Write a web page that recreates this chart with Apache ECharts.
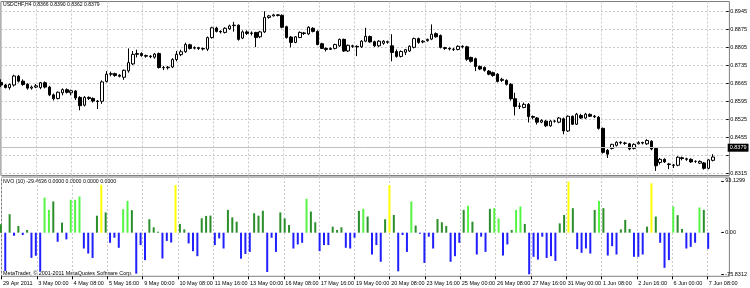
<!DOCTYPE html>
<html>
<head>
<meta charset="utf-8">
<script src="https://cdn.jsdelivr.net/npm/echarts@6.0.0/dist/echarts.min.js"></script>
<style>
html,body{margin:0;padding:0;background:#ffffff;}
#chart{width:750px;height:288px;}
</style>
</head>
<body>
<div id="chart"></div>
<script>
// ---------- data ----------
const symbolName = 'USDCHF,H4';
const indicatorName = 'NVO (10)';
const copyrightText = 'MetaTrader, \u00a9 2001-2011 MetaQuotes Software Corp.';
const timeLabels = ['29 Apr 2011','3 May 00:00','4 May 08:00','5 May 16:00','9 May 00:00','10 May 08:00','11 May 16:00','13 May 00:00','16 May 08:00','17 May 16:00','19 May 00:00','20 May 08:00','23 May 16:00','25 May 00:00','26 May 08:00','27 May 16:00','31 May 00:00','1 Jun 08:00','2 Jun 16:00','6 Jun 00:00','7 Jun 08:00'];
const barsPerLabel = 8;
const priceBase = 0.8315;
const priceStep = 0.0070;
const priceSteps = 9;

const open = [
0.8668,0.8658,0.8648,0.8658,0.8692,0.8673,0.8661,0.8646,0.8650,0.8648,
0.8667,0.8650,0.8620,0.8606,0.8628,0.8640,0.8628,0.8635,0.8610,0.8580,
0.8610,0.8606,0.8596,0.8595,0.8672,0.8700,0.8702,0.8696,0.8688,0.8713,
0.8740,0.8777,0.8780,0.8772,0.8770,0.8766,0.8780,0.8726,0.8725,0.8728,
0.8757,0.8776,0.8787,0.8814,0.8801,0.8803,0.8800,0.8797,0.8842,0.8879,
0.8866,0.8862,0.8876,0.8888,0.8890,0.8840,0.8864,0.8858,0.8862,0.8845,
0.8864,0.8920,0.8926,0.8930,0.8928,0.8884,0.8844,0.8823,0.8842,0.8860,
0.8856,0.8878,0.8866,0.8818,0.8800,0.8796,0.8800,0.8810,0.8835,0.8790,
0.8810,0.8808,0.8806,0.8828,0.8846,0.8826,0.8810,0.8820,0.8826,0.8810,
0.8788,0.8769,0.8785,0.8790,0.8804,0.8838,0.8825,0.8830,0.8836,0.8857,
0.8850,0.8803,0.8800,0.8797,0.8796,0.8808,0.8806,0.8765,0.8760,0.8730,
0.8726,0.8712,0.8706,0.8700,0.8676,0.8676,0.8661,0.8605,0.8575,0.8571,
0.8583,0.8536,0.8530,0.8514,0.8518,0.8500,0.8518,0.8514,0.8527,0.8480,
0.8537,0.8506,0.8540,0.8530,0.8544,0.8537,0.8533,0.8490,0.8405,0.8412,
0.8424,0.8436,0.8433,0.8430,0.8412,0.8430,0.8435,0.8430,0.8440,0.8412,
0.8358,0.8370,0.8352,0.8348,0.8347,0.8376,0.8372,0.8370,0.8362,0.8355,
0.8356,0.8335,0.8366];
const high = [
0.8680,0.8662,0.8664,0.8698,0.8697,0.8680,0.8665,0.8656,0.8662,0.8670,
0.8672,0.8655,0.8625,0.8633,0.8645,0.8645,0.8640,0.8638,0.8615,0.8615,
0.8614,0.8610,0.8600,0.8676,0.8712,0.8710,0.8706,0.8700,0.8718,0.8800,
0.8790,0.8795,0.8785,0.8776,0.8774,0.8782,0.8784,0.8732,0.8732,0.8762,
0.8790,0.8795,0.8822,0.8818,0.8808,0.8806,0.8803,0.8846,0.8884,0.8884,
0.8870,0.8882,0.8892,0.8903,0.8893,0.8870,0.8870,0.8866,0.8864,0.8868,
0.8944,0.8930,0.8934,0.8932,0.8932,0.8888,0.8848,0.8848,0.8866,0.8864,
0.8886,0.8882,0.8870,0.8822,0.8804,0.8804,0.8818,0.8838,0.8838,0.8815,
0.8814,0.8812,0.8832,0.8880,0.8850,0.8830,0.8832,0.8832,0.8830,0.8855,
0.8796,0.8792,0.8798,0.8812,0.8842,0.8842,0.8832,0.8838,0.8893,0.8862,
0.8854,0.8806,0.8804,0.8802,0.8812,0.8812,0.8810,0.8768,0.8764,0.8734,
0.8730,0.8716,0.8710,0.8704,0.8686,0.8680,0.8665,0.8628,0.8590,0.8590,
0.8588,0.8540,0.8534,0.8525,0.8522,0.8522,0.8522,0.8534,0.8532,0.8540,
0.8540,0.8550,0.8546,0.8550,0.8548,0.8542,0.8538,0.8493,0.8410,0.8430,
0.8440,0.8440,0.8438,0.8434,0.8432,0.8440,0.8438,0.8448,0.8444,0.8415,
0.8375,0.8374,0.8356,0.8352,0.8382,0.8380,0.8376,0.8374,0.8366,0.8366,
0.8360,0.8370,0.8390];
const low = [
0.8650,0.8645,0.8640,0.8652,0.8668,0.8655,0.8640,0.8640,0.8646,0.8642,
0.8645,0.8615,0.8598,0.8602,0.8618,0.8625,0.8618,0.8600,0.8560,0.8575,
0.8600,0.8590,0.8565,0.8585,0.8668,0.8692,0.8690,0.8688,0.8678,0.8706,
0.8735,0.8765,0.8768,0.8764,0.8762,0.8760,0.8722,0.8716,0.8718,0.8724,
0.8750,0.8770,0.8783,0.8796,0.8796,0.8794,0.8792,0.8790,0.8838,0.8862,
0.8858,0.8858,0.8872,0.8865,0.8830,0.8836,0.8852,0.8850,0.8805,0.8840,
0.8860,0.8915,0.8924,0.8924,0.8878,0.8838,0.8804,0.8820,0.8840,0.8852,
0.8852,0.8862,0.8812,0.8798,0.8788,0.8794,0.8796,0.8806,0.8786,0.8786,
0.8802,0.8770,0.8802,0.8824,0.8822,0.8806,0.8806,0.8814,0.8818,0.8750,
0.8764,0.8765,0.8774,0.8786,0.8800,0.8818,0.8820,0.8826,0.8832,0.8842,
0.8800,0.8794,0.8792,0.8790,0.8792,0.8800,0.8752,0.8745,0.8712,0.8716,
0.8710,0.8696,0.8690,0.8668,0.8670,0.8656,0.8598,0.8540,0.8565,0.8568,
0.8513,0.8525,0.8505,0.8510,0.8495,0.8496,0.8512,0.8510,0.8467,0.8476,
0.8503,0.8503,0.8527,0.8527,0.8534,0.8530,0.8485,0.8392,0.8375,0.8408,
0.8420,0.8428,0.8426,0.8405,0.8408,0.8428,0.8428,0.8426,0.8405,0.8325,
0.8350,0.8356,0.8332,0.8336,0.8343,0.8366,0.8364,0.8356,0.8356,0.8352,
0.8330,0.8331,0.8362];
const close = [
0.8658,0.8648,0.8660,0.8693,0.8673,0.8660,0.8646,0.8650,0.8655,0.8667,
0.8650,0.8620,0.8605,0.8630,0.8640,0.8630,0.8636,0.8608,0.8578,0.8610,
0.8606,0.8596,0.8594,0.8670,0.8700,0.8702,0.8695,0.8692,0.8715,0.8745,
0.8777,0.8780,0.8772,0.8770,0.8768,0.8778,0.8726,0.8725,0.8727,0.8757,
0.8777,0.8787,0.8815,0.8800,0.8803,0.8800,0.8798,0.8842,0.8880,0.8866,
0.8864,0.8878,0.8887,0.8890,0.8835,0.8864,0.8858,0.8860,0.8842,0.8864,
0.8920,0.8926,0.8930,0.8928,0.8882,0.8842,0.8823,0.8845,0.8862,0.8858,
0.8882,0.8866,0.8815,0.8800,0.8796,0.8800,0.8815,0.8835,0.8790,0.8812,
0.8808,0.8806,0.8828,0.8847,0.8825,0.8810,0.8828,0.8828,0.8824,0.8784,
0.8769,0.8788,0.8795,0.8808,0.8838,0.8823,0.8828,0.8835,0.8855,0.8845,
0.8804,0.8800,0.8798,0.8796,0.8808,0.8806,0.8758,0.8750,0.8730,0.8720,
0.8715,0.8700,0.8695,0.8672,0.8680,0.8661,0.8605,0.8575,0.8577,0.8583,
0.8536,0.8533,0.8514,0.8521,0.8500,0.8518,0.8518,0.8530,0.8480,0.8537,
0.8506,0.8545,0.8530,0.8545,0.8537,0.8535,0.8490,0.8397,0.8390,0.8428,
0.8436,0.8434,0.8432,0.8410,0.8428,0.8435,0.8433,0.8443,0.8410,0.8345,
0.8370,0.8360,0.8350,0.8347,0.8378,0.8373,0.8370,0.8360,0.8362,0.8362,
0.8335,0.8368,0.8379];

const nvo = [
15.3,-70.0,33.7,-5.5,12.2,-4.3,4.9,-45.9,-42.0,-70.4,
64.0,41.6,57.0,-16.5,18.4,-12.2,60.0,60.0,66.0,-28.8,
-38.0,-46.0,31.0,87.5,37.0,-18.4,-9.2,-27.5,42.8,58.0,
41.0,-74.7,-22.6,-50.0,24.5,9.8,1.8,-47.0,-15.0,-18.0,
87.0,16.0,6.0,-19.6,-33.7,-42.8,26.3,30.6,31.2,-22.6,
-10.4,-28.8,41.6,28.0,20.0,-47.4,-38.8,-35.0,35.5,31.0,
40.0,-71.6,-9.2,-35.0,37.0,26.0,14.0,-28.8,-21.4,-18.4,
61.8,38.6,19.0,-33.7,-22.6,-22.6,11.0,4.9,9.8,-27.5,
-28.8,-9.2,39.8,43.5,29.4,-39.8,-22.6,-53.0,24.5,87.0,
32.4,-70.4,-4.3,-35.0,57.0,12.9,-1.8,-55.0,-7.3,-28.8,
25.0,19.0,12.2,-53.0,-42.8,-18.4,41.6,49.0,20.0,-39.8,
-7.3,-35.0,43.5,44.7,26.0,-41.6,-21.4,4.9,41.6,47.7,
16.0,-75.8312,-44.0,-49.0,-7.3,-46.0,-42.8,-51.4,17.0,32.4,
93.1299,44.7,-30.0,-36.7,-28.8,-38.0,41.6,58.0,44.7,-41.6,
-24.5,-39.8,6.0,23.3,6.7,-44.0,-44.0,-39.8,11.0,90.0,
29.4,-18.4,-64.0,-50.0,47.7,32.0,6.7,-28.8,-25.7,-18.4,
46.0,41.6,-29.4636];
// colour class of each histogram bar: d = dark green, l = light green, y = yellow, b = blue
const nvoClass = ('dbdbdbdbbb'+'lldbdblllb'+'bbdydbbbll'+'dbbbdddbbb'+'yddbbbdddb'+
  'bbdddbbbdd'+'dbbbdddbbb'+'lddbbbdddb'+'bbdldbbbdy'+'dbbbldbbbb'+'dddbbbdldb'+
  'bbdllbbdll'+'dbbbbbbbdd'+'ydbbbbdldb'+'bbdddbbbdy'+'dbbblddbbb'+'ldb').split('');
const nvoPalette = {d:'#2a8f2a', l:'#55f544', y:'#ffff00', b:'#1f1fff'};

// ---------- build ----------
const N = open.length;
const last = N - 1;
const slots = N + 3;
const cats = Array.from({length: slots}, (_, i) => String(i));
const isMajor = i => i % barsPerLabel === 0;
const labelAt = i => (isMajor(i) && timeLabels[i / barsPerLabel]) ? timeLabels[i / barsPerLabel] : '';
const FONT = 'Liberation Sans';
const FS = 5.5;
const gridLeft = 0.9, gridWidth = 728.5;
const gridCol = '#c8c8c8';
const frameCol = '#7f7f7f';

const candleData = open.map((o, i) => [o - priceBase, close[i] - priceBase, low[i] - priceBase, high[i] - priceBase]);
const nvoMax = Math.max(...nvo), nvoMin = Math.min(...nvo);
const barData = nvo.map((v, i) => ({value: v, itemStyle: {color: nvoPalette[nvoClass[i]]}}));

const f4 = v => v.toFixed(4);
const titleText = symbolName + ' ' + [open[last], high[last], low[last], close[last]].map(f4).join(' ');
const nvoText = indicatorName + ' ' + f4(nvo[last]) + ' 0.0000 0.0000 0.0000 0.0000';

const txt = (text, x, y, fs) => ({type:'text', silent:true, style:{text, x, y, fill:'#000', fontSize:fs, fontFamily:FONT, verticalAlign:'middle', align:'left'}});

const hiddenCat = (gi) => ({gridIndex: gi, type:'category', data: cats, boundaryGap:false, show:false});

const option = {
  animation: false,
  backgroundColor: '#ffffff',
  textStyle: {fontFamily: FONT},
  grid: [
    {left: gridLeft, width: gridWidth, top: 1.5, height: 174, show: true, borderColor: frameCol, borderWidth: 1, backgroundColor: 'rgba(0,0,0,0)'},
    {left: gridLeft, width: gridWidth, top: 11, height: 162.5},
    {left: gridLeft, width: gridWidth, top: 177, height: 99.3, show: true, borderColor: frameCol, borderWidth: 1, backgroundColor: 'rgba(0,0,0,0)'},
    {left: gridLeft, width: gridWidth, top: 181.6, height: 92.7}
  ],
  xAxis: [
    {gridIndex:0, type:'category', data:cats, boundaryGap:false,
     axisLine:{show:false}, axisTick:{show:false}, axisLabel:{show:false},
     splitLine:{show:true, interval:(i) => isMajor(i), lineStyle:{color:gridCol, type:[2,2], width:1}}},
    hiddenCat(1),
    {gridIndex:2, type:'category', data:cats, boundaryGap:false, position:'bottom',
     axisLine:{show:false},
     axisTick:{show:true, interval:(i) => isMajor(i) && labelAt(i) !== '', length:3, lineStyle:{color:'#000'}},
     axisLabel:{show:true, interval:(i) => isMajor(i), formatter:(v, i) => labelAt(i), align:'left',
                margin:4.5, fontSize:FS, fontFamily:FONT, color:'#000', padding:[0,0,0,1.5]},
     splitLine:{show:true, interval:(i) => isMajor(i), lineStyle:{color:gridCol, type:[2,2], width:1}}},
    hiddenCat(3)
  ],
  yAxis: [
    {gridIndex:0, type:'value', min:0, max:1, show:false},
    {gridIndex:1, type:'value', position:'right', min:0, max:priceStep * priceSteps, interval:priceStep,
     axisLine:{show:false},
     axisTick:{show:true, length:2.5, lineStyle:{color:'#000'}},
     axisLabel:{margin:4, fontSize:FS, fontFamily:FONT, color:'#000',
       formatter:(v) => { const p = v + priceBase; return Math.abs(p - close[last]) < 0.0012 ? '' : p.toFixed(4); }},
     splitLine:{show:true, lineStyle:{color:gridCol, type:[2,2], width:1}}},
    {gridIndex:2, type:'value', min:0, max:1, show:false},
    {gridIndex:3, type:'value', position:'right', min:nvoMin, max:nvoMax,
     axisLine:{show:false},
     axisTick:{show:true, length:2.5, customValues:[nvoMin, 0, nvoMax], lineStyle:{color:'#000'}},
     axisLabel:{margin:4, fontSize:FS, fontFamily:FONT, color:'#000', customValues:[nvoMin, 0, nvoMax],
       formatter:(v) => Math.abs(v) < 1e-9 ? '0.00' : (v === nvoMax ? '{top|' + v.toFixed(4) + '}' : v.toFixed(4)),
       rich:{top:{fontSize:FS, fontFamily:FONT, color:'#000', padding:[0,0,3,0]}}},
     splitLine:{show:false}}
  ],
  series: [
    {type:'candlestick', name:symbolName, xAxisIndex:1, yAxisIndex:1, data:candleData, barWidth:3, clip:false,
     itemStyle:{color:'#ffffff', color0:'#000000', borderColor:'#000000', borderColor0:'#000000', borderWidth:1},
     markLine:{silent:true, symbol:['none','none'], animation:false,
       data:[{yAxis: close[last] - priceBase}],
       lineStyle:{color:'#c0c0c0', type:'solid', width:1},
       label:{show:true, position:'end', distance:1.5, formatter: f4(close[last]),
              fontSize:FS, fontFamily:FONT, color:'#ffffff', backgroundColor:'#000000', padding:[1,2,1,2]}}},
    {type:'bar', name:indicatorName, xAxisIndex:3, yAxisIndex:3, data:barData, barWidth:2}
  ],
  graphic: [
    txt(titleText, 3, 4.6, 5.1),
    txt(nvoText, 3, 182, 5.2),
    txt(copyrightText, 3, 274, 5.4)
  ]
};

const chart = echarts.init(document.getElementById('chart'));
chart.setOption(option);
</script>
</body>
</html>
